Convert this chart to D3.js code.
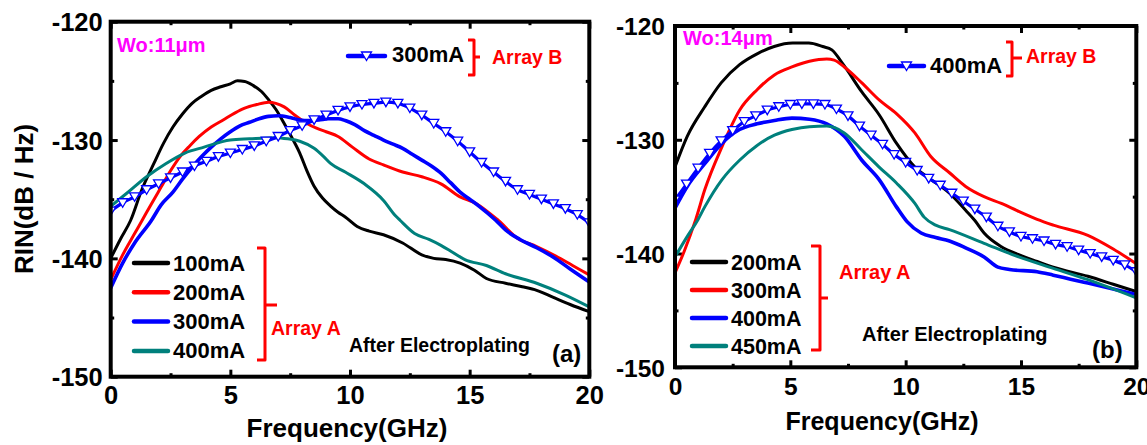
<!DOCTYPE html>
<html>
<head>
<meta charset="utf-8">
<script src="https://cdn.jsdelivr.net/npm/d3@7"></script>
<style>
  html, body { margin: 0; padding: 0; background: #fff; }
  svg { display: block; }
  text { font-family: "Liberation Sans", Arial, Helvetica, sans-serif; font-weight: bold; }
</style>
</head>
<body>
<svg id="chart" width="1147" height="445"></svg>
<script>
// ---------- data: RIN spectra [frequency GHz, RIN dB/Hz] ----------
// Panel (a): Wo = 11 µm, array A
const a100 = [[0,-140.0],[0.4,-138.4],[0.83,-136.8],[1.3,-134.2],[1.8,-132.0],[2.2,-130.3],[2.6,-128.9],[3.0,-127.8],[3.4,-126.9],[3.8,-126.3],[4.2,-125.8],[4.6,-125.5],[5.0,-125.25],[5.3,-125.0],[5.6,-125.05],[5.96,-125.4],[6.3,-125.9],[6.6,-126.6],[6.9,-127.4],[7.25,-128.6],[7.6,-129.9],[7.9,-131.1],[8.2,-132.6],[8.5,-133.9],[8.85,-134.9],[9.2,-135.6],[9.5,-136.1],[9.8,-136.5],[10.3,-137.3],[10.8,-137.7],[11.4,-138.0],[12.2,-138.7],[13.0,-139.7],[13.5,-140.0],[14.0,-140.1],[14.6,-140.4],[15.2,-141.0],[15.7,-141.7],[16.5,-142.1],[17.2,-142.4],[17.8,-142.7],[18.5,-143.3],[19.2,-143.9],[20,-144.5]];
const a200 = [[0,-141.8],[0.5,-139.7],[1.0,-137.9],[1.31,-136.8],[1.7,-135.4],[2.1,-134.0],[2.5,-132.6],[2.9,-131.4],[3.3,-130.5],[3.7,-129.7],[4.2,-128.9],[4.7,-128.3],[5.2,-127.7],[5.6,-127.3],[6.1,-127.0],[6.6,-126.8],[6.9,-126.9],[7.25,-127.2],[7.7,-127.9],[8.2,-128.6],[8.6,-129.0],[9.0,-129.3],[9.5,-129.7],[10.1,-130.6],[10.8,-131.6],[11.4,-132.1],[12.2,-132.7],[13.0,-133.1],[13.8,-133.7],[14.6,-134.8],[15.3,-135.4],[16.2,-136.8],[17.0,-138.3],[17.8,-139.0],[18.6,-139.8],[19.3,-140.6],[20,-141.4]];
const a300 = [[0,-142.5],[0.5,-140.4],[1.0,-138.7],[1.7,-136.8],[2.1,-135.5],[2.6,-134.4],[3.0,-133.3],[3.4,-132.3],[3.8,-131.4],[4.2,-130.6],[4.6,-129.9],[5.0,-129.3],[5.4,-128.8],[5.8,-128.5],[6.2,-128.2],[6.6,-128.0],[7.0,-127.95],[7.5,-128.1],[7.9,-128.3],[8.3,-128.35],[8.7,-128.3],[9.1,-128.2],[9.5,-128.2],[9.8,-128.35],[10.2,-128.7],[10.6,-129.2],[11.0,-129.6],[11.4,-130.0],[11.8,-130.35],[12.2,-130.7],[12.6,-131.2],[13.0,-131.7],[13.4,-132.2],[13.8,-132.8],[14.2,-133.6],[14.6,-134.4],[15.0,-135.0],[15.4,-135.6],[16.1,-136.8],[16.5,-137.6],[17.1,-138.4],[17.8,-139.1],[18.5,-139.9],[19.2,-140.9],[20,-142.0]];
const a400 = [[0,-135.6],[0.67,-134.5],[1.5,-133.1],[2.3,-132.0],[3.1,-131.1],[3.9,-130.6],[5.0,-130.0],[5.8,-129.9],[6.9,-129.8],[7.4,-129.9],[7.9,-130.1],[8.5,-130.7],[8.9,-131.4],[9.2,-132.0],[9.8,-132.7],[10.6,-133.7],[11.4,-135.1],[11.9,-136.4],[12.1,-136.8],[12.7,-137.9],[13.3,-138.4],[13.8,-138.9],[14.3,-139.5],[14.8,-140.1],[15.7,-140.6],[16.5,-141.3],[17.8,-142.1],[19.0,-143.1],[20,-144.1]];
// Panel (a): array B, 300 mA (marked every 0.5 GHz)
const aB300 = [[0,-136.0],[0.5,-135.3],[1.0,-134.8],[1.5,-134.2],[2.0,-133.7],[2.5,-133.2],[3.0,-132.7],[3.5,-132.2],[4.0,-131.8],[4.5,-131.4],[5.0,-131.1],[5.5,-130.8],[6.0,-130.5],[6.5,-130.1],[7.0,-129.7],[7.5,-129.2],[8.0,-128.8],[8.5,-128.3],[9.0,-127.9],[9.5,-127.5],[10.0,-127.2],[10.5,-127.0],[11.0,-126.9],[11.5,-126.8],[12.0,-126.9],[12.5,-127.3],[13.0,-127.9],[13.5,-128.6],[14.0,-129.3],[14.5,-130.1],[15.0,-131.0],[15.5,-131.9],[16.0,-132.7],[16.5,-133.5],[17.0,-134.2],[17.5,-134.6],[18.0,-135.0],[18.5,-135.4],[19.0,-135.8],[19.5,-136.3],[20,-137.0]];

// Panel (b): Wo = 14 µm, array A
const b200 = [[0,-132.4],[0.53,-129.7],[1.29,-127.1],[2.0,-125.0],[2.8,-123.4],[3.6,-122.4],[4.3,-121.8],[5.1,-121.5],[5.8,-121.5],[6.4,-121.8],[6.8,-122.1],[7.3,-123.4],[8.1,-125.8],[8.85,-127.8],[9.6,-130.3],[10.4,-132.4],[11.1,-133.5],[11.9,-134.7],[12.6,-136.2],[13.0,-137.1],[13.4,-138.2],[14.15,-139.4],[14.9,-140.1],[15.7,-140.7],[16.4,-141.2],[17.9,-142.0],[19.0,-142.7],[20,-143.35]];
const b300 = [[0,-141.7],[0.4,-139.8],[0.9,-137.0],[1.29,-134.4],[2.04,-130.6],[2.8,-127.4],[3.56,-125.6],[4.31,-124.3],[5.07,-123.6],[5.83,-123.1],[6.58,-122.9],[6.9,-123.0],[7.34,-123.6],[8.1,-125.0],[8.85,-126.5],[9.6,-127.7],[10.4,-129.4],[11.1,-131.5],[11.9,-132.9],[12.6,-134.1],[13.4,-135.0],[14.15,-135.6],[14.9,-136.3],[15.7,-137.0],[16.4,-137.5],[17.9,-138.4],[19.0,-139.6],[20,-140.9]];
const b400 = [[0,-136.0],[0.53,-134.1],[1.29,-132.1],[2.04,-130.3],[2.8,-129.1],[3.56,-128.6],[4.31,-128.3],[5.07,-128.1],[5.83,-128.2],[6.58,-128.6],[7.34,-129.7],[8.1,-131.8],[8.85,-133.5],[9.6,-135.9],[10.06,-137.2],[10.67,-138.2],[11.3,-138.6],[11.9,-138.9],[12.6,-139.5],[13.4,-140.3],[14.0,-141.2],[14.5,-141.4],[15.7,-141.6],[16.4,-141.9],[17.9,-142.6],[20,-143.6]];
const b450 = [[0,-140.3],[0.5,-138.6],[1.0,-137.0],[1.29,-135.9],[2.04,-133.5],[2.8,-131.8],[3.56,-130.5],[4.31,-129.6],[5.07,-129.1],[5.83,-128.85],[6.58,-128.8],[7.34,-129.4],[8.1,-130.9],[8.85,-132.4],[9.6,-133.8],[10.4,-135.6],[10.8,-136.8],[11.3,-137.5],[11.9,-137.9],[13.4,-139.1],[14.9,-140.3],[16.4,-141.3],[17.9,-142.3],[20,-143.9]];
// Panel (b): array B, 400 mA (marked every 0.5 GHz)
const bB400 = [[0,-135.3],[0.5,-133.9],[1.0,-132.5],[1.5,-131.2],[2.0,-130.1],[2.5,-129.2],[3.0,-128.4],[3.5,-127.9],[4.0,-127.4],[4.5,-127.1],[5.0,-126.9],[5.5,-126.85],[6.0,-126.85],[6.5,-126.9],[7.0,-127.3],[7.5,-127.9],[8.0,-128.8],[8.5,-129.6],[9.0,-130.4],[9.5,-131.3],[10.0,-132.0],[10.5,-132.7],[11.0,-133.4],[11.5,-134.0],[12.0,-134.7],[12.5,-135.4],[13.0,-136.1],[13.5,-136.8],[14.0,-137.6],[14.5,-138.1],[15.0,-138.5],[15.5,-138.7],[16.0,-138.9],[16.5,-139.2],[17.0,-139.4],[17.5,-139.7],[18.0,-140.0],[18.5,-140.3],[19.0,-140.6],[19.5,-141.0],[20,-141.6]];

// axis ticks
const xMajor = [0, 5, 10, 15, 20];
const xMinor = [2.5, 7.5, 12.5, 17.5];
const yMajor = [-120, -130, -140, -150];
const yMinor = [-125, -135, -145];

// legend labels
const labelsA_a = ["100mA", "200mA", "300mA", "400mA"];
const labelsA_b = ["200mA", "300mA", "400mA", "450mA"];
const labelB_a = "300mA";
const labelB_b = "400mA";

// ---------- styling ----------
const colors = ["#000000", "#ff0000", "#0000ff", "#00807c"];
const widths = [3, 3, 3.6, 3];
const BLUE = "#0000ff";

const svg = d3.select("#chart");

const panels = [
  { id: "a", box: { l: 110.7, r: 589.3, t: 21.7, b: 376.7 }, series: [a100, a200, a300, a400], arrB: aB300,
    tickFont: 25.5, xLabBase: 404, yLabGap: 8,
    wo: "Wo:11\u03bcm", woPos: [117, 52],
    legA: { x1: 134, x2: 168, y0: 263, dy: 29.3, tx: 173, font: 22, labels: labelsA_a },
    brA: { x: 265, y1: 248, y2: 360, serif: 8, nubY: 305, nub: 12 },
    arrA: [271, 335, 19.5],
    legB: { x1: 348, x2: 385, y: 56, tx: 392, tb: 62, font: 22, label: labelB_a },
    brB: { x: 474, y1: 40, y2: 75, serif: 6, nubY: 57, nub: 6 },
    arrB_t: [492, 64, 19.5],
    after: [349, 352, 19.5], tag: ["(a)", 552, 362, 24],
    xTitle: [347, 437, 26] },
  { id: "b", box: { l: 675, r: 1136.3, t: 26, b: 367.3 }, series: [b200, b300, b400, b450], arrB: bB400,
    tickFont: 24.5, xLabBase: 395, yLabGap: 10,
    wo: "Wo:14\u03bcm", woPos: [683, 45],
    legA: { x1: 692, x2: 726, y0: 262, dy: 28, tx: 731, font: 21.5, labels: labelsA_b },
    brA: { x: 820, y1: 246, y2: 350, serif: 9, nubY: 298, nub: 8 },
    arrA: [839, 279, 20],
    legB: { x1: 889, x2: 924, y: 66, tx: 930, tb: 73, font: 22, label: labelB_b },
    brB: { x: 1012, y1: 42, y2: 76, serif: 6, nubY: 58, nub: 10 },
    arrB_t: [1026, 63, 19.5],
    after: [862, 341, 20], tag: ["(b)", 1092, 358, 24],
    xTitle: [882, 430, 25] }
];

const triPath = "M-5,-4L5,-4L0,4.5Z";

panels.forEach(p => {
  const B = p.box;
  const x = d3.scaleLinear().domain([0, 20]).range([B.l, B.r]);
  const y = d3.scaleLinear().domain([-150, -120]).range([B.b, B.t]);
  const g = svg.append("g").attr("class", "panel-" + p.id);

  const clipId = "clip-" + p.id;
  g.append("clipPath").attr("id", clipId)
    .append("rect").attr("x", B.l).attr("y", B.t).attr("width", B.r - B.l).attr("height", B.b - B.t);

  // axes with inward ticks on all four sides
  const tickStyle = sel => {
    sel.select(".domain").remove();
    sel.selectAll(".tick line").attr("stroke", "#000").attr("stroke-width", 3);
  };
  const addAxis = (axis, tx, ty, labels) => {
    const ag = g.append("g").attr("transform", `translate(${tx},${ty})`).call(axis).call(tickStyle);
    if (!labels) ag.selectAll(".tick text").remove();
    return ag;
  };
  const bx = addAxis(d3.axisBottom(x).tickValues(xMajor).tickSize(-7).tickPadding(0).tickFormat(d3.format("d")), 0, B.b, true);
  bx.selectAll(".tick text").attr("y", p.xLabBase - B.b).attr("dy", null)
    .attr("font-size", p.tickFont).attr("fill", "#000");
  addAxis(d3.axisBottom(x).tickValues(xMinor).tickSize(-3.5).tickFormat(""), 0, B.b, false);
  addAxis(d3.axisTop(x).tickValues(xMajor).tickSize(-7).tickFormat(""), 0, B.t, false);
  addAxis(d3.axisTop(x).tickValues(xMinor).tickSize(-3.5).tickFormat(""), 0, B.t, false);
  const ly = addAxis(d3.axisLeft(y).tickValues(yMajor).tickSize(-7).tickFormat(d3.format("d")), B.l, 0, true);
  ly.selectAll(".tick text").attr("x", -p.yLabGap).attr("dy", "0.36em")
    .attr("font-size", p.tickFont).attr("fill", "#000").text(d => "-" + Math.abs(d));
  addAxis(d3.axisLeft(y).tickValues(yMinor).tickSize(-3.5).tickFormat(""), B.l, 0, false);
  addAxis(d3.axisRight(y).tickValues(yMajor).tickSize(-7).tickFormat(""), B.r, 0, false);
  addAxis(d3.axisRight(y).tickValues(yMinor).tickSize(-3.5).tickFormat(""), B.r, 0, false);

  // curves
  const line = d3.line().x(d => x(d[0])).y(d => y(d[1])).curve(d3.curveMonotoneX);
  const cg = g.append("g").attr("clip-path", `url(#${clipId})`);
  p.series.forEach((s, i) => {
    cg.append("path").datum(s).attr("d", line)
      .attr("fill", "none").attr("stroke", colors[i]).attr("stroke-width", widths[i])
      .attr("stroke-linejoin", "round").attr("stroke-linecap", "round");
  });
  cg.append("path").datum(p.arrB).attr("d", line)
    .attr("fill", "none").attr("stroke", BLUE).attr("stroke-width", 3.2);
  cg.selectAll("path.tri").data(p.arrB).join("path").attr("class", "tri")
    .attr("d", triPath)
    .attr("transform", d => `translate(${x(d[0])},${y(d[1])})`)
    .attr("fill", "#fff").attr("stroke", BLUE).attr("stroke-width", 1.3);

  // frame
  g.append("rect").attr("x", B.l).attr("y", B.t).attr("width", B.r - B.l).attr("height", B.b - B.t)
    .attr("fill", "none").attr("stroke", "#000").attr("stroke-width", 4);

  // width label
  g.append("text").attr("x", p.woPos[0]).attr("y", p.woPos[1])
    .attr("font-size", 20).attr("fill", "#ff00ff").text(p.wo);

  // legend for array A
  const L = p.legA;
  L.labels.forEach((lab, i) => {
    const yy = L.y0 + i * L.dy;
    g.append("line").attr("x1", L.x1).attr("x2", L.x2).attr("y1", yy).attr("y2", yy)
      .attr("stroke", colors[i]).attr("stroke-width", 4.5).attr("stroke-linecap", "round");
    g.append("text").attr("x", L.tx).attr("y", yy + 7.5).attr("font-size", L.font)
      .attr("fill", "#000").text(lab);
  });

  // red brackets grouping the legend entries
  const bracket = (b) => {
    const path = d3.path();
    path.moveTo(b.x - b.serif, b.y1); path.lineTo(b.x, b.y1); path.lineTo(b.x, b.y2); path.lineTo(b.x - b.serif, b.y2);
    path.moveTo(b.x, b.nubY); path.lineTo(b.x + b.nub, b.nubY);
    g.append("path").attr("d", path.toString()).attr("fill", "none")
      .attr("stroke", "#ff0000").attr("stroke-width", 3).attr("stroke-linejoin", "round");
  };
  bracket(p.brA);
  g.append("text").attr("x", p.arrA[0]).attr("y", p.arrA[1]).attr("font-size", p.arrA[2])
    .attr("fill", "#ff0000").text("Array A");

  // legend for array B
  const LB = p.legB;
  g.append("line").attr("x1", LB.x1).attr("x2", LB.x2).attr("y1", LB.y).attr("y2", LB.y)
    .attr("stroke", BLUE).attr("stroke-width", 4.5).attr("stroke-linecap", "round");
  g.append("path").attr("d", triPath)
    .attr("transform", `translate(${(LB.x1 + LB.x2) / 2},${LB.y})`)
    .attr("fill", "#fff").attr("stroke", BLUE).attr("stroke-width", 1.3);
  g.append("text").attr("x", LB.tx).attr("y", LB.tb).attr("font-size", LB.font)
    .attr("fill", "#000").text(LB.label);
  bracket(p.brB);
  g.append("text").attr("x", p.arrB_t[0]).attr("y", p.arrB_t[1]).attr("font-size", p.arrB_t[2])
    .attr("fill", "#ff0000").text("Array B");

  // annotations
  g.append("text").attr("x", p.after[0]).attr("y", p.after[1]).attr("font-size", p.after[2])
    .attr("fill", "#000").text("After Electroplating");
  g.append("text").attr("x", p.tag[1]).attr("y", p.tag[2]).attr("font-size", p.tag[3])
    .attr("fill", "#000").text(p.tag[0]);

  // x axis title
  g.append("text").attr("x", p.xTitle[0]).attr("y", p.xTitle[1]).attr("font-size", p.xTitle[2])
    .attr("text-anchor", "middle").attr("fill", "#000").text("Frequency(GHz)");
});

// shared y axis title
svg.append("text").attr("transform", "translate(33,199) rotate(-90)")
  .attr("text-anchor", "middle").attr("font-size", 26).attr("fill", "#000").text("RIN(dB / Hz)");
</script>
</body>
</html>
